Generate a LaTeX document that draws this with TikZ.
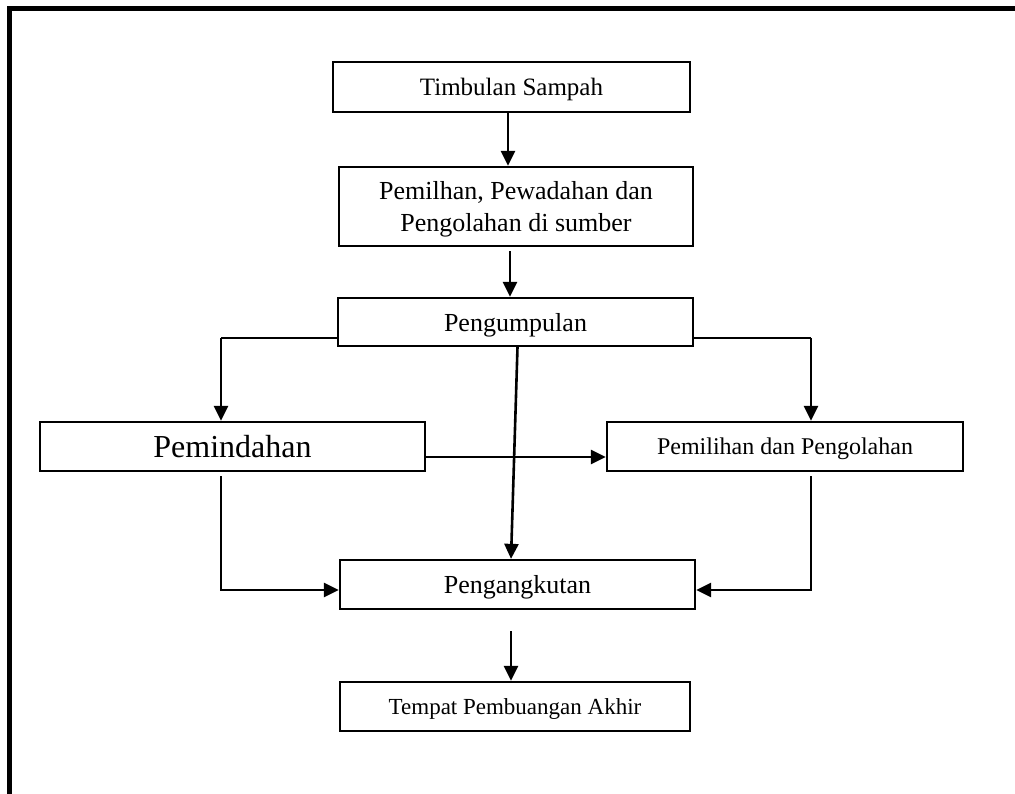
\documentclass[tikz,border=0pt]{standalone}
\usepackage{fontspec}
\setmainfont{Liberation Serif}
\usetikzlibrary{arrows.meta,calc}
\begin{document}
\begin{tikzpicture}[x=1pt,y=-1pt,
  box/.style={draw,line width=2.3pt,inner sep=0pt,align=center,text depth=0pt},
  arr/.style={line width=2.6pt,-{Triangle[length=15pt,width=14pt]}},
  ln/.style={line width=2pt},
  frame/.style={line width=5pt,line join=miter}]
\useasboundingbox (0,0) rectangle (1015,794);
\draw[frame] (9.5,794) -- (9.5,9) -- (1015,9);
% nodes
\node[box,minimum width=357pt,minimum height=50pt,font=\fontsize{25}{29}\selectfont] (ts) at (511.5,87) {Timbulan Sampah};
\node[box,minimum width=354pt,minimum height=79pt,font=\fontsize{26}{32}\selectfont] (pp) at (516,206.5) {Pemilhan, Pewadahan dan\\Pengolahan di sumber};
\node[box,minimum width=355pt,minimum height=48pt,font=\fontsize{26}{30}\selectfont] (pu) at (515.5,322) {Pengumpulan};
\node[box,minimum width=385pt,minimum height=49pt,font=\fontsize{32}{36}\selectfont] (pm) at (232.5,446.5) {Pemindahan};
\node[box,minimum width=356pt,minimum height=49pt,font=\fontsize{24}{28}\selectfont] (pd) at (785,446.5) {Pemilihan dan Pengolahan};
\node[box,minimum width=355pt,minimum height=49pt,font=\fontsize{26}{30}\selectfont] (pa) at (517.5,584.5) {Pengangkutan};
\node[box,minimum width=350pt,minimum height=49pt,font=\fontsize{23}{27}\selectfont] (tpa) at (515,706.5) {Tempat Pembuangan Akhir};
% helper coordinates
\coordinate (c1) at (508,0);
\coordinate (c2) at (510,0);
\coordinate (cl) at (221,338);
\coordinate (cr) at (811,338);
\coordinate (yb) at (0,590);
\coordinate (yh) at (0,457);
\coordinate (c3) at (511,0);
% connectors
\draw[arr] (ts.south -| c1) -- (pp.north -| c1);
\draw[arr] ([yshift=-4pt]pp.south -| c2) -- (pu.north -| c2);
\draw[ln] (pu.west |- cl) -- (cl);
\draw[arr] (cl) -- (pm.north -| cl);
\draw[ln] (pu.east |- cr) -- (cr);
\draw[arr] (cr) -- (pd.north -| cr);
\draw[arr] (pm.east |- yh) -- (pd.west |- yh);
\draw[arr] ([xshift=2pt]pu.south) -- ([xshift=-6.5pt]pa.north);
\draw[arr] ([yshift=-4pt]pm.south -| cl) -- (cl |- yb) -- (pa.west |- yb);
\draw[arr] ([yshift=-4pt]pd.south -| cr) -- (cr |- yb) -- (pa.east |- yb);
\draw[arr] ([yshift=-21pt]pa.south -| c3) -- (tpa.north -| c3);
\end{tikzpicture}
\end{document}
